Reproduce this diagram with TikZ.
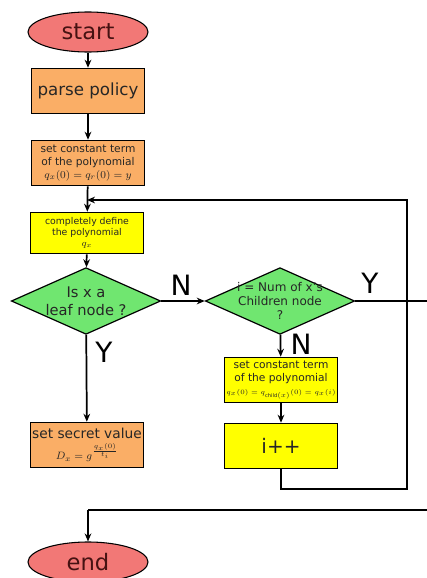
\documentclass[tikz,border=0pt]{standalone}
\usepackage{amsmath}
\usepackage{fontspec}
\setmainfont{DejaVu Sans}
\usetikzlibrary{positioning,arrows.meta,shapes.geometric}
\definecolor{termred}{RGB}{242,120,118}
\definecolor{procorange}{RGB}{250,174,102}
\definecolor{procyellow}{RGB}{255,255,0}
\definecolor{decgreen}{RGB}{112,230,112}
\definecolor{termtext}{RGB}{70,18,18}
\tikzset{
  wire/.style    = {line width=1.3pt, -{Stealth[length=6pt,width=5pt]}},
  lwire/.style   = {line width=0.9pt},
  term/.style    = {ellipse, draw, line width=0.8pt, fill=termred, text=termtext,
                    minimum width=90pt, minimum height=30pt, inner sep=0pt,
                    font=\fontsize{17}{17}\selectfont},
  proc/.style    = {rectangle, draw, line width=0.9pt, minimum width=85pt,
                    minimum height=34pt, inner sep=1pt, align=center,
                    text=black!85},
  dec/.style     = {diamond, draw, line width=0.9pt, fill=decgreen, aspect=2.25,
                    minimum width=112pt, minimum height=50pt, inner sep=0pt,
                    align=center, text=black!85},
  lbl/.style     = {font=\fontsize{21}{21}\selectfont, inner sep=0pt},
}
\begin{document}
\begin{tikzpicture}[x=0.75pt,y=-0.75pt]
  \useasboundingbox (0,0) rectangle (427,578);
  % left column
  \node[term] (start) at (88,32) {start};
  \node[proc, fill=procorange, font=\fontsize{12.5}{14}\selectfont] (parse) at (88,91) {parse policy};
  \node[proc, fill=procorange, font=\fontsize{8}{9.6}\selectfont] (sct1) at (88,163)
    {set constant term\\of the polynomial\\$q_x(0)=q_r(0)=y$};
  \node[proc, fill=procyellow, minimum height=31pt, font=\fontsize{7}{8.2}\selectfont] (cdef) at (87,233)
    {completely define\\the polynomial\\$q_x$};
  \node[dec, font=\fontsize{11}{13.5}\selectfont] (leaf) at (86,301) {Is x a\\leaf node ?};
  \node[proc, fill=procorange, font=\fontsize{10.3}{11.5}\selectfont] (secret) at (87,445)
    {set secret value\\[3pt]{\fontsize{8}{9}\selectfont$D_x=g^{\frac{q_x(0)}{t_i}}$}};
  \node[term] (end) at (88,562) {end};
  % right column
  \node[dec, inner sep=-7pt, font=\fontsize{9}{10.5}\selectfont] (kids) at (280,301)
    {i = Num of x's\\Children node\\?};
  \node[proc, fill=procyellow, font=\fontsize{8}{9.6}\selectfont] (sct2) at (281,380)
    {set constant term\\of the polynomial\\{\fontsize{5.5}{6.5}\selectfont$q_x(0)=q_{\mathrm{child}(x)}(0)=q_x(i)$}};
  \node[proc, fill=procyellow, font=\fontsize{15}{15}\selectfont] (incr) at (281,446) {i++};
  % branch labels
  \node[lbl] (nleaf) at (181,285) {N};
  \node[lbl] (yleaf) at (104,352) {Y};
  \node[lbl] (ykids) at (370,283) {Y};
  \node[lbl] (nkids) at (301,344) {N};
  % joints
  \coordinate (jn) at (87,200);
  \coordinate (rc) at (407,489);
  \coordinate (ye) at (445,301);
  \coordinate (eb) at (88,510);
  % connectors
  \draw[wire] (start) -- (parse);
  \draw[wire] (parse) -- (sct1);
  \draw[wire] (sct1) -- (cdef);
  \draw[wire] (cdef) -- (leaf);
  \draw[wire] (leaf) -- (kids);
  \draw[wire] (leaf) -- (secret);
  \draw[wire] (kids) -- (sct2);
  \draw[wire] (sct2) -- (incr);
  \draw[lwire, -{Stealth[length=6pt,width=5pt]}] (incr.south) |- (rc) |- (jn);
  \draw[lwire] (kids.east) -- (ye) |- (eb);
  \draw[wire] (eb) -- (end);
\end{tikzpicture}
\end{document}
